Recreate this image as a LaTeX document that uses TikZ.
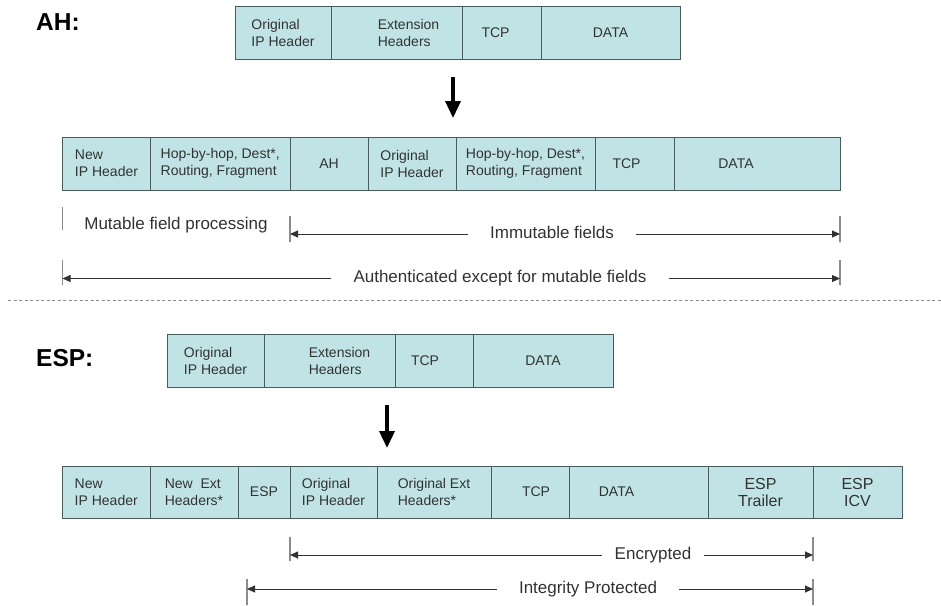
\documentclass[tikz,border=0pt]{standalone}
\usepackage{fontspec}
\setmainfont{Liberation Sans}
\usepackage{xcolor}
\usetikzlibrary{arrows.meta,positioning}

\definecolor{cellfill}{RGB}{192,228,230}
\definecolor{cellline}{RGB}{72,92,92}
\definecolor{txtgray}{RGB}{50,50,50}
\definecolor{tickgray}{RGB}{140,140,140}

\begin{document}
\begin{tikzpicture}[
  x=1pt, y=-1pt,
  cell/.style={rectangle, draw=cellline, line width=0.9pt, fill=cellfill,
               minimum height=53pt, inner sep=0pt, outer sep=0pt,
               align=left, text=txtgray, font=\fontsize{14}{17}\selectfont},
  title/.style={font=\fontsize{24.5}{28}\selectfont\bfseries, anchor=west,
                inner sep=0pt, text=black},
  lbl/.style={font=\fontsize{17}{20}\selectfont, text=txtgray,
              inner xsep=22pt, inner ysep=0pt, text height=12pt, text depth=4pt},
  tickmark/.style={draw=tickgray, line width=1.3pt, minimum width=0pt,
                   inner sep=0pt, outer sep=0pt},
  rng/.style={-{Triangle[length=8pt,width=7pt]}, line width=0.9pt, draw=txtgray},
  bigarr/.style={-{Triangle[length=17pt,width=15pt]}, line width=3.5pt, draw=black}
]
\useasboundingbox (0,0) rectangle (941,605);

% ---- AH (top half) ----
\node[title] (ahtitle) at (36,22) {AH:};

\node[cell, minimum width=96pt, anchor=west] (ahA) at (235,32.5) {Original\\IP Header};
\node[cell, minimum width=131pt, right=0pt of ahA] (ahB) {\hspace*{24pt}Extension\\\hspace*{24pt}Headers};
\node[cell, minimum width=79pt, right=0pt of ahB] (ahC) {TCP\hspace*{12pt}};
\node[cell, minimum width=139pt, right=0pt of ahC] (ahD) {DATA};

\coordinate (ahgo) at (453,77);
\coordinate (ahcome) at (453,118);
\draw[bigarr] (ahgo) -- (ahcome);

\node[cell, minimum width=88pt, anchor=west] (ahnA) at (62.5,163.5) {New\\IP Header};
\node[cell, minimum width=139.5pt, right=0pt of ahnA] (ahnB) {Hop-by-hop, Dest*,\\Routing, Fragment};
\node[cell, minimum width=78pt, right=0pt of ahnB] (ahnC) {AH};
\node[cell, minimum width=88pt, right=0pt of ahnC] (ahnD) {Original\\IP Header};
\node[cell, minimum width=139pt, right=0pt of ahnD] (ahnE) {Hop-by-hop, Dest*,\\Routing, Fragment};
\node[cell, minimum width=79pt, right=0pt of ahnE] (ahnF) {TCP\hspace*{16pt}};
\node[cell, minimum width=166pt, right=0pt of ahnF] (ahnG) {DATA\hspace*{42pt}};

% ranges
\node[tickmark, minimum height=23pt] (mutL) at (62.5,218.5) {};
\node[lbl, inner xsep=0pt] (mutable) at (176,225) {Mutable field processing};

\node[tickmark, minimum height=26pt] (imL) at (290,229) {};
\node[tickmark, minimum height=26pt] (imR) at (840,229) {};
\node[lbl] (immut) at (552,234) {Immutable fields};
\draw[rng] (immut.west) -- (immut.west -| imL);
\draw[rng] (immut.east) -- (immut.east -| imR);

\node[tickmark, minimum height=25pt] (authL) at (62.5,272.5) {};
\node[tickmark, minimum height=25pt] (authR) at (840,272.5) {};
\node[lbl] (auth) at (500,278.5) {Authenticated except for mutable fields};
\draw[rng] (auth.west) -- (auth.west -| authL);
\draw[rng] (auth.east) -- (auth.east -| authR);

% ---- separator ----
\draw[tickgray, line width=1pt, dash pattern=on 3pt off 2.5pt] (8,300) -- (941,300);

% ---- ESP (bottom half) ----
\node[title] (esptitle) at (36,358) {ESP:};

\node[cell, minimum width=97pt, anchor=west] (espA) at (167,360.5) {Original\\IP Header};
\node[cell, minimum width=131pt, right=0pt of espA] (espB) {\hspace*{20pt}Extension\\\hspace*{20pt}Headers};
\node[cell, minimum width=78pt, right=0pt of espB] (espC) {TCP\hspace*{18pt}};
\node[cell, minimum width=140pt, right=0pt of espC] (espD) {DATA};

\coordinate (espgo) at (387,405);
\coordinate (espcome) at (387,448);
\draw[bigarr] (espgo) -- (espcome);

\node[cell, minimum width=87.5pt, minimum height=52pt, anchor=west] (espnA) at (62.5,492) {New\\IP Header};
\node[cell, minimum width=88pt, minimum height=52pt, right=0pt of espnA] (espnB) {New\ \ Ext\\Headers*};
\node[cell, minimum width=52pt, minimum height=52pt, right=0pt of espnB] (espnC) {ESP};
\node[cell, minimum width=87pt, minimum height=52pt, right=0pt of espnC] (espnD) {Original\\IP Header};
\node[cell, minimum width=114pt, minimum height=52pt, right=0pt of espnD] (espnE) {Original Ext\\Headers*};
\node[cell, minimum width=78pt, minimum height=52pt, right=0pt of espnE] (espnF) {\hspace*{12pt}TCP};
\node[cell, minimum width=139pt, minimum height=52pt, right=0pt of espnF] (espnG) {DATA\hspace*{44pt}};
\node[cell, minimum width=105pt, minimum height=52pt, align=center, right=0pt of espnG] (espnH) {\fontsize{16}{19}\selectfont ESP\\\fontsize{16}{19}\selectfont Trailer};
\node[cell, minimum width=89pt, minimum height=52pt, align=center, right=0pt of espnH] (espnI) {\fontsize{16}{19}\selectfont ESP\\\fontsize{16}{19}\selectfont ICV};

% ranges
\node[tickmark, minimum height=24pt] (encL) at (290,549) {};
\node[tickmark, minimum height=24pt] (encR) at (813,549) {};
\node[lbl, inner xsep=13pt] (encr) at (653,555) {Encrypted};
\draw[rng] (encr.west) -- (encr.west -| encL);
\draw[rng] (encr.east) -- (encr.east -| encR);

\node[tickmark, minimum height=26pt] (intL) at (247,592) {};
\node[tickmark, minimum height=26pt] (intR) at (813,592) {};
\node[lbl] (integ) at (588,589) {Integrity Protected};
\draw[rng] (integ.west) -- (integ.west -| intL);
\draw[rng] (integ.east) -- (integ.east -| intR);

\end{tikzpicture}
\end{document}
